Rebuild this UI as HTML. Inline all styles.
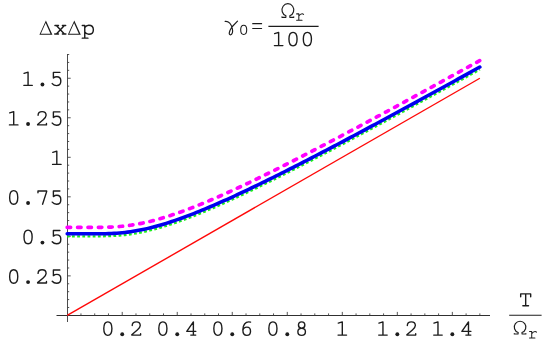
<!DOCTYPE html>
<html><head><meta charset="utf-8"><style>
html,body{margin:0;padding:0;background:#fff;}
body{width:554px;height:343px;overflow:hidden;font-family:"Liberation Mono",monospace;}
svg{display:block;}
</style></head><body>
<svg width="554" height="343" viewBox="0 0 554 343">
<rect width="554" height="343" fill="#fff"/>
<path d="M56.5,315.5 H490" stroke="#303030" stroke-width="1" fill="none"/>
<path d="M67.5,322 V54" stroke="#4c4c4c" stroke-width="1" fill="none"/>
<path d="M80.96,315.40 v-2.00 M94.71,315.40 v-2.00 M108.47,315.40 v-2.00 M122.22,315.40 v-3.50 M135.98,315.40 v-2.00 M149.73,315.40 v-2.00 M163.49,315.40 v-2.00 M177.24,315.40 v-3.50 M191.00,315.40 v-2.00 M204.75,315.40 v-2.00 M218.51,315.40 v-2.00 M232.26,315.40 v-3.50 M246.02,315.40 v-2.00 M259.77,315.40 v-2.00 M273.53,315.40 v-2.00 M287.28,315.40 v-3.50 M301.04,315.40 v-2.00 M314.79,315.40 v-2.00 M328.55,315.40 v-2.00 M342.30,315.40 v-3.50 M356.06,315.40 v-2.00 M369.81,315.40 v-2.00 M383.57,315.40 v-2.00 M397.32,315.40 v-3.50 M411.07,315.40 v-2.00 M424.83,315.40 v-2.00 M438.59,315.40 v-2.00 M452.34,315.40 v-3.50 M466.10,315.40 v-2.00 M479.85,315.40 v-2.00 M67.20,307.50 h2.00 M67.20,299.59 h2.00 M67.20,291.68 h2.00 M67.20,283.78 h2.00 M67.20,275.88 h3.50 M67.20,267.97 h2.00 M67.20,260.06 h2.00 M67.20,252.16 h2.00 M67.20,244.25 h2.00 M67.20,236.35 h3.50 M67.20,228.44 h2.00 M67.20,220.54 h2.00 M67.20,212.63 h2.00 M67.20,204.73 h2.00 M67.20,196.82 h3.50 M67.20,188.92 h2.00 M67.20,181.01 h2.00 M67.20,173.11 h2.00 M67.20,165.20 h2.00 M67.20,157.30 h3.50 M67.20,149.39 h2.00 M67.20,141.49 h2.00 M67.20,133.58 h2.00 M67.20,125.68 h2.00 M67.20,117.77 h3.50 M67.20,109.87 h2.00 M67.20,101.96 h2.00 M67.20,94.06 h2.00 M67.20,86.15 h2.00 M67.20,78.25 h3.50 M67.20,70.34 h2.00 M67.20,62.44 h2.00 M67.20,54.53 h2.00" stroke="#444" stroke-width="0.9" fill="none"/>
<g fill="none" stroke-linecap="butt" stroke-linejoin="round">
<path d="M67.20,315.40 L479.85,78.25" stroke="#ff0808" stroke-width="1.4"/>
<path d="M67.20,236.35 L69.95,236.35 L72.70,236.35 L75.45,236.35 L78.20,236.35 L80.96,236.35 L83.71,236.35 L86.46,236.35 L89.21,236.35 L91.96,236.35 L94.71,236.34 L97.46,236.33 L100.21,236.31 L102.96,236.28 L105.71,236.22 L108.47,236.15 L111.22,236.04 L113.97,235.91 L116.72,235.74 L119.47,235.53 L122.22,235.28 L124.97,234.99 L127.72,234.65 L130.47,234.28 L133.22,233.86 L135.98,233.40 L138.73,232.90 L141.48,232.36 L144.23,231.78 L146.98,231.16 L149.73,230.50 L152.48,229.81 L155.23,229.08 L157.98,228.33 L160.73,227.54 L163.49,226.72 L166.24,225.87 L168.99,224.99 L171.74,224.09 L174.49,223.16 L177.24,222.21 L179.99,221.24 L182.74,220.24 L185.49,219.23 L188.24,218.19 L191.00,217.13 L193.75,216.06 L196.50,214.97 L199.25,213.86 L202.00,212.74 L204.75,211.60 L207.50,210.45 L210.25,209.29 L213.00,208.11 L215.75,206.92 L218.51,205.71 L221.26,204.50 L224.01,203.27 L226.76,202.04 L229.51,200.79 L232.26,199.54 L235.01,198.27 L237.76,197.00 L240.51,195.71 L243.26,194.42 L246.02,193.12 L248.77,191.82 L251.52,190.50 L254.27,189.18 L257.02,187.85 L259.77,186.52 L262.52,185.18 L265.27,183.83 L268.02,182.48 L270.77,181.12 L273.53,179.76 L276.28,178.39 L279.03,177.02 L281.78,175.64 L284.53,174.25 L287.28,172.86 L290.03,171.47 L292.78,170.08 L295.53,168.67 L298.28,167.27 L301.04,165.86 L303.79,164.45 L306.54,163.03 L309.29,161.61 L312.04,160.19 L314.79,158.76 L317.54,157.33 L320.29,155.90 L323.04,154.47 L325.79,153.03 L328.55,151.59 L331.30,150.14 L334.05,148.70 L336.80,147.25 L339.55,145.79 L342.30,144.34 L345.05,142.88 L347.80,141.42 L350.55,139.96 L353.30,138.50 L356.06,137.03 L358.81,135.57 L361.56,134.10 L364.31,132.62 L367.06,131.15 L369.81,129.67 L372.56,128.20 L375.31,126.72 L378.06,125.24 L380.81,123.75 L383.56,122.27 L386.32,120.78 L389.07,119.30 L391.82,117.81 L394.57,116.32 L397.32,114.83 L400.07,113.33 L402.82,111.84 L405.57,110.34 L408.32,108.84 L411.07,107.35 L413.83,105.85 L416.58,104.34 L419.33,102.84 L422.08,101.34 L424.83,99.83 L427.58,98.33 L430.33,96.82 L433.08,95.31 L435.83,93.80 L438.59,92.29 L441.34,90.78 L444.09,89.27 L446.84,87.76 L449.59,86.24 L452.34,84.73 L455.09,83.21 L457.84,81.70 L460.59,80.18 L463.34,78.66 L466.10,77.14 L468.85,75.62 L471.60,74.10 L474.35,72.58 L477.10,71.05 L479.85,69.53" stroke="#1cf01c" stroke-width="2.3" stroke-dasharray="2.8 2.38" stroke-dashoffset="0.4"/>
<path d="M67.20,227.34 L69.95,227.34 L72.70,227.34 L75.45,227.34 L78.20,227.34 L80.96,227.34 L83.71,227.34 L86.46,227.34 L89.21,227.34 L91.96,227.34 L94.71,227.33 L97.46,227.32 L100.21,227.30 L102.96,227.27 L105.71,227.21 L108.47,227.14 L111.22,227.03 L113.97,226.90 L116.72,226.72 L119.47,226.52 L122.22,226.27 L124.97,225.97 L127.72,225.64 L130.47,225.27 L133.22,224.85 L135.98,224.39 L138.73,223.89 L141.48,223.35 L144.23,222.76 L146.98,222.15 L149.73,221.49 L152.48,220.80 L155.23,220.07 L157.98,219.31 L160.73,218.52 L163.49,217.70 L166.24,216.86 L168.99,215.98 L171.74,215.08 L174.49,214.15 L177.24,213.20 L179.99,212.23 L182.74,211.23 L185.49,210.21 L188.24,209.18 L191.00,208.12 L193.75,207.05 L196.50,205.96 L199.25,204.85 L202.00,203.73 L204.75,202.59 L207.50,201.44 L210.25,200.28 L213.00,199.10 L215.75,197.91 L218.51,196.70 L221.26,195.49 L224.01,194.26 L226.76,193.03 L229.51,191.78 L232.26,190.52 L235.01,189.26 L237.76,187.98 L240.51,186.70 L243.26,185.41 L246.02,184.11 L248.77,182.80 L251.52,181.49 L254.27,180.17 L257.02,178.84 L259.77,177.51 L262.52,176.17 L265.27,174.82 L268.02,173.47 L270.77,172.11 L273.53,170.75 L276.28,169.38 L279.03,168.00 L281.78,166.62 L284.53,165.24 L287.28,163.85 L290.03,162.46 L292.78,161.06 L295.53,159.66 L298.28,158.26 L301.04,156.85 L303.79,155.44 L306.54,154.02 L309.29,152.60 L312.04,151.18 L314.79,149.75 L317.54,148.32 L320.29,146.89 L323.04,145.45 L325.79,144.02 L328.55,142.57 L331.30,141.13 L334.05,139.68 L336.80,138.23 L339.55,136.78 L342.30,135.33 L345.05,133.87 L347.80,132.41 L350.55,130.95 L353.30,129.49 L356.06,128.02 L358.81,126.55 L361.56,125.08 L364.31,123.61 L367.06,122.14 L369.81,120.66 L372.56,119.19 L375.31,117.71 L378.06,116.23 L380.81,114.74 L383.56,113.26 L386.32,111.77 L389.07,110.29 L391.82,108.80 L394.57,107.31 L397.32,105.81 L400.07,104.32 L402.82,102.83 L405.57,101.33 L408.32,99.83 L411.07,98.33 L413.83,96.83 L416.58,95.33 L419.33,93.83 L422.08,92.33 L424.83,90.82 L427.58,89.32 L430.33,87.81 L433.08,86.30 L435.83,84.79 L438.59,83.28 L441.34,81.77 L444.09,80.26 L446.84,78.75 L449.59,77.23 L452.34,75.72 L455.09,74.20 L457.84,72.68 L460.59,71.17 L463.34,69.65 L466.10,68.13 L468.85,66.61 L471.60,65.09 L474.35,63.57 L477.10,62.04 L479.85,60.52" stroke="#ff00ff" stroke-width="3.7" stroke-dasharray="3.4 7.004" stroke-linecap="round"/>
<path d="M67.20,233.82 L69.95,233.82 L72.70,233.82 L75.45,233.82 L78.20,233.82 L80.96,233.82 L83.71,233.82 L86.46,233.82 L89.21,233.82 L91.96,233.82 L94.71,233.81 L97.46,233.80 L100.21,233.78 L102.96,233.75 L105.71,233.70 L108.47,233.62 L111.22,233.51 L113.97,233.38 L116.72,233.21 L119.47,233.00 L122.22,232.75 L124.97,232.46 L127.72,232.12 L130.47,231.75 L133.22,231.33 L135.98,230.87 L138.73,230.37 L141.48,229.83 L144.23,229.25 L146.98,228.63 L149.73,227.97 L152.48,227.28 L155.23,226.55 L157.98,225.80 L160.73,225.01 L163.49,224.19 L166.24,223.34 L168.99,222.46 L171.74,221.56 L174.49,220.63 L177.24,219.68 L179.99,218.71 L182.74,217.71 L185.49,216.70 L188.24,215.66 L191.00,214.61 L193.75,213.53 L196.50,212.44 L199.25,211.33 L202.00,210.21 L204.75,209.07 L207.50,207.92 L210.25,206.76 L213.00,205.58 L215.75,204.39 L218.51,203.18 L221.26,201.97 L224.01,200.74 L226.76,199.51 L229.51,198.26 L232.26,197.01 L235.01,195.74 L237.76,194.47 L240.51,193.18 L243.26,191.89 L246.02,190.59 L248.77,189.29 L251.52,187.97 L254.27,186.65 L257.02,185.32 L259.77,183.99 L262.52,182.65 L265.27,181.30 L268.02,179.95 L270.77,178.59 L273.53,177.23 L276.28,175.86 L279.03,174.49 L281.78,173.11 L284.53,171.72 L287.28,170.34 L290.03,168.94 L292.78,167.55 L295.53,166.15 L298.28,164.74 L301.04,163.33 L303.79,161.92 L306.54,160.50 L309.29,159.08 L312.04,157.66 L314.79,156.23 L317.54,154.80 L320.29,153.37 L323.04,151.94 L325.79,150.50 L328.55,149.06 L331.30,147.61 L334.05,146.17 L336.80,144.72 L339.55,143.26 L342.30,141.81 L345.05,140.35 L347.80,138.89 L350.55,137.43 L353.30,135.97 L356.06,134.50 L358.81,133.04 L361.56,131.57 L364.31,130.09 L367.06,128.62 L369.81,127.14 L372.56,125.67 L375.31,124.19 L378.06,122.71 L380.81,121.22 L383.56,119.74 L386.32,118.25 L389.07,116.77 L391.82,115.28 L394.57,113.79 L397.32,112.30 L400.07,110.80 L402.82,109.31 L405.57,107.81 L408.32,106.31 L411.07,104.82 L413.83,103.32 L416.58,101.82 L419.33,100.31 L422.08,98.81 L424.83,97.30 L427.58,95.80 L430.33,94.29 L433.08,92.78 L435.83,91.27 L438.59,89.76 L441.34,88.25 L444.09,86.74 L446.84,85.23 L449.59,83.71 L452.34,82.20 L455.09,80.68 L457.84,79.17 L460.59,77.65 L463.34,76.13 L466.10,74.61 L468.85,73.09 L471.60,71.57 L474.35,70.05 L477.10,68.52 L479.85,67.00" stroke="#0000f0" stroke-width="3.55" stroke-linecap="round"/>
</g>
<g fill="none" stroke="#1c1c1c" stroke-width="59" stroke-linecap="round" stroke-linejoin="round"><path transform="translate(100.77,335.70) scale(0.02360,-0.02360)" d="M300,12 C185,12 128,140 128,300 C128,460 185,588 300,588 C415,588 472,460 472,300 C472,140 415,12 300,12 Z"/><circle cx="122.22" cy="334.24" r="1.94" fill="#1c1c1c" stroke="none"/><path transform="translate(129.51,335.70) scale(0.02360,-0.02360)" d="M115,430 C115,530 190,588 285,588 C385,588 455,520 455,430 C455,350 400,300 330,240 L95,40 V25 H470 V85"/></g><g fill="none" stroke="#1c1c1c" stroke-width="59" stroke-linecap="round" stroke-linejoin="round"><path transform="translate(155.79,335.70) scale(0.02360,-0.02360)" d="M300,12 C185,12 128,140 128,300 C128,460 185,588 300,588 C415,588 472,460 472,300 C472,140 415,12 300,12 Z"/><circle cx="177.24" cy="334.24" r="1.94" fill="#1c1c1c" stroke="none"/><path transform="translate(184.53,335.70) scale(0.02360,-0.02360)" d="M375,25 V588 L95,185 H480 M265,25 H475"/></g><g fill="none" stroke="#1c1c1c" stroke-width="59" stroke-linecap="round" stroke-linejoin="round"><path transform="translate(210.81,335.70) scale(0.02360,-0.02360)" d="M300,12 C185,12 128,140 128,300 C128,460 185,588 300,588 C415,588 472,460 472,300 C472,140 415,12 300,12 Z"/><circle cx="232.26" cy="334.24" r="1.94" fill="#1c1c1c" stroke="none"/><path transform="translate(239.55,335.70) scale(0.02360,-0.02360)" d="M465,575 C440,585 415,588 390,588 C250,588 140,450 140,250 C140,110 200,12 305,12 C400,12 465,90 465,190 C465,295 400,365 310,365 C230,365 160,310 140,220"/></g><g fill="none" stroke="#1c1c1c" stroke-width="59" stroke-linecap="round" stroke-linejoin="round"><path transform="translate(265.83,335.70) scale(0.02360,-0.02360)" d="M300,12 C185,12 128,140 128,300 C128,460 185,588 300,588 C415,588 472,460 472,300 C472,140 415,12 300,12 Z"/><circle cx="287.28" cy="334.24" r="1.94" fill="#1c1c1c" stroke="none"/><path transform="translate(294.57,335.70) scale(0.02360,-0.02360)" d="M300,315 C215,315 165,370 165,450 C165,530 220,588 300,588 C380,588 435,530 435,450 C435,370 385,315 300,315 C205,315 140,250 140,165 C140,75 205,12 300,12 C395,12 460,75 460,165 C460,250 395,315 300,315 Z"/></g><g fill="none" stroke="#1c1c1c" stroke-width="59" stroke-linecap="round" stroke-linejoin="round"><path transform="translate(335.22,335.70) scale(0.02360,-0.02360)" d="M300,25 V588 L130,535 M120,25 H480"/></g><g fill="none" stroke="#1c1c1c" stroke-width="59" stroke-linecap="round" stroke-linejoin="round"><path transform="translate(375.87,335.70) scale(0.02360,-0.02360)" d="M300,25 V588 L130,535 M120,25 H480"/><circle cx="397.32" cy="334.24" r="1.94" fill="#1c1c1c" stroke="none"/><path transform="translate(404.61,335.70) scale(0.02360,-0.02360)" d="M115,430 C115,530 190,588 285,588 C385,588 455,520 455,430 C455,350 400,300 330,240 L95,40 V25 H470 V85"/></g><g fill="none" stroke="#1c1c1c" stroke-width="59" stroke-linecap="round" stroke-linejoin="round"><path transform="translate(430.89,335.70) scale(0.02360,-0.02360)" d="M300,25 V588 L130,535 M120,25 H480"/><circle cx="452.34" cy="334.24" r="1.94" fill="#1c1c1c" stroke="none"/><path transform="translate(459.63,335.70) scale(0.02360,-0.02360)" d="M375,25 V588 L95,185 H480 M265,25 H475"/></g>
<g fill="none" stroke="#1c1c1c" stroke-width="59" stroke-linecap="round" stroke-linejoin="round"><path transform="translate(6.63,283.57) scale(0.02360,-0.02360)" d="M300,12 C185,12 128,140 128,300 C128,460 185,588 300,588 C415,588 472,460 472,300 C472,140 415,12 300,12 Z"/><circle cx="28.07" cy="282.11" r="1.94" fill="#1c1c1c" stroke="none"/><path transform="translate(35.37,283.57) scale(0.02360,-0.02360)" d="M115,430 C115,530 190,588 285,588 C385,588 455,520 455,430 C455,350 400,300 330,240 L95,40 V25 H470 V85"/><path transform="translate(49.73,283.57) scale(0.02360,-0.02360)" d="M430,575 H155 V335 C200,375 250,390 300,390 C400,390 470,310 470,205 C470,90 395,12 290,12 C210,12 150,45 105,100"/></g><g fill="none" stroke="#1c1c1c" stroke-width="59" stroke-linecap="round" stroke-linejoin="round"><path transform="translate(20.99,244.05) scale(0.02360,-0.02360)" d="M300,12 C185,12 128,140 128,300 C128,460 185,588 300,588 C415,588 472,460 472,300 C472,140 415,12 300,12 Z"/><circle cx="42.44" cy="242.59" r="1.94" fill="#1c1c1c" stroke="none"/><path transform="translate(49.73,244.05) scale(0.02360,-0.02360)" d="M430,575 H155 V335 C200,375 250,390 300,390 C400,390 470,310 470,205 C470,90 395,12 290,12 C210,12 150,45 105,100"/></g><g fill="none" stroke="#1c1c1c" stroke-width="59" stroke-linecap="round" stroke-linejoin="round"><path transform="translate(6.63,204.52) scale(0.02360,-0.02360)" d="M300,12 C185,12 128,140 128,300 C128,460 185,588 300,588 C415,588 472,460 472,300 C472,140 415,12 300,12 Z"/><circle cx="28.07" cy="203.06" r="1.94" fill="#1c1c1c" stroke="none"/><path transform="translate(35.37,204.52) scale(0.02360,-0.02360)" d="M110,500 V575 H478 V545 L305,15"/><path transform="translate(49.73,204.52) scale(0.02360,-0.02360)" d="M430,575 H155 V335 C200,375 250,390 300,390 C400,390 470,310 470,205 C470,90 395,12 290,12 C210,12 150,45 105,100"/></g><g fill="none" stroke="#1c1c1c" stroke-width="59" stroke-linecap="round" stroke-linejoin="round"><path transform="translate(49.73,165.00) scale(0.02360,-0.02360)" d="M300,25 V588 L130,535 M120,25 H480"/></g><g fill="none" stroke="#1c1c1c" stroke-width="59" stroke-linecap="round" stroke-linejoin="round"><path transform="translate(6.63,125.47) scale(0.02360,-0.02360)" d="M300,25 V588 L130,535 M120,25 H480"/><circle cx="28.07" cy="124.01" r="1.94" fill="#1c1c1c" stroke="none"/><path transform="translate(35.37,125.47) scale(0.02360,-0.02360)" d="M115,430 C115,530 190,588 285,588 C385,588 455,520 455,430 C455,350 400,300 330,240 L95,40 V25 H470 V85"/><path transform="translate(49.73,125.47) scale(0.02360,-0.02360)" d="M430,575 H155 V335 C200,375 250,390 300,390 C400,390 470,310 470,205 C470,90 395,12 290,12 C210,12 150,45 105,100"/></g><g fill="none" stroke="#1c1c1c" stroke-width="59" stroke-linecap="round" stroke-linejoin="round"><path transform="translate(20.99,85.95) scale(0.02360,-0.02360)" d="M300,25 V588 L130,535 M120,25 H480"/><circle cx="42.44" cy="84.49" r="1.94" fill="#1c1c1c" stroke="none"/><path transform="translate(49.73,85.95) scale(0.02360,-0.02360)" d="M430,575 H155 V335 C200,375 250,390 300,390 C400,390 470,310 470,205 C470,90 395,12 290,12 C210,12 150,45 105,100"/></g>
<!-- y label -->
<path d="M39.40,34.70 L45.90,20.50 L52.40,34.70 Z M40.85,33.75 L50.45,33.75 L45.65,23.00 Z" fill="#1c1c1c" fill-rule="evenodd" stroke="none"/>
<path d="M67.80,34.70 L74.30,20.50 L80.80,34.70 Z M69.25,33.75 L78.85,33.75 L74.05,23.00 Z" fill="#1c1c1c" fill-rule="evenodd" stroke="none"/>
<g fill="none" stroke="#1c1c1c" stroke-width="60" stroke-linecap="round" stroke-linejoin="round"><path transform="translate(53.30,34.60) scale(0.02360,-0.02360)" d="M130,385 L470,25 M470,385 L130,25 M70,385 H220 M385,385 H525 M60,25 H220 M385,25 H535"/></g>
<g fill="none" stroke="#1c1c1c" stroke-width="60" stroke-linecap="round" stroke-linejoin="round"><path transform="translate(81.10,34.60) scale(0.02360,-0.02360)" d="M50,385 H155 V-150 M50,-150 H290 M155,295 C195,362 250,398 325,398 C438,398 520,318 520,205 C520,92 438,12 325,12 C250,12 195,48 155,115"/></g>
<!-- title -->
<path d="M225.2,21.35 C228.7,20.9 231.4,24.3 232.3,28.6 C233.1,31.8 232.3,34.7 230.4,34.8 C228.3,34.8 229.3,30.8 231.9,27.0 L237.5,21.2" fill="none" stroke="#1c1c1c" stroke-width="1.2" stroke-linecap="round" stroke-linejoin="round"/>
<g fill="none" stroke="#1c1c1c" stroke-width="62" stroke-linecap="round" stroke-linejoin="round"><path transform="translate(238.45,34.75) scale(0.01750,-0.01628)" d="M300,12 C185,12 128,140 128,300 C128,460 185,588 300,588 C415,588 472,460 472,300 C472,140 415,12 300,12 Z"/></g>
<path d="M252.7,23.65 H261.6 M252.7,28.5 H261.6" stroke="#1c1c1c" stroke-width="1.15" stroke-linecap="round" fill="none"/>
<path d="M268.4,26.35 H318.6" stroke="#1c1c1c" stroke-width="1.05"/>
<path d="M281.97,16.83 V17.33 H285.80 L285.95,15.83 A5.90,6.25 0 1 1 289.80,15.83 L289.95,17.33 H293.77 V16.83" fill="none" stroke="#1c1c1c" stroke-width="1.15" stroke-linecap="round" stroke-linejoin="round"/>
<g fill="none" stroke="#1c1c1c" stroke-width="58" stroke-linecap="round" stroke-linejoin="round"><path transform="translate(294.70,20.70) scale(0.01750,-0.01750)" d="M110,390 H235 V25 M110,25 H420 M235,265 C290,355 355,400 425,400 C462,400 490,385 508,358"/></g>
<g fill="none" stroke="#1c1c1c" stroke-width="59" stroke-linecap="round" stroke-linejoin="round"><path transform="translate(271.56,46.20) scale(0.02360,-0.02360)" d="M300,25 V588 L130,535 M120,25 H480"/><path transform="translate(285.93,46.20) scale(0.02360,-0.02360)" d="M300,12 C185,12 128,140 128,300 C128,460 185,588 300,588 C415,588 472,460 472,300 C472,140 415,12 300,12 Z"/><path transform="translate(300.30,46.20) scale(0.02360,-0.02360)" d="M300,12 C185,12 128,140 128,300 C128,460 185,588 300,588 C415,588 472,460 472,300 C472,140 415,12 300,12 Z"/></g>
<!-- x label -->
<g fill="none" stroke="#1c1c1c" stroke-width="59" stroke-linecap="round" stroke-linejoin="round"><path transform="translate(518.60,306.40) scale(0.02360,-0.02360)" d="M88,405 V530 H512 V405 M300,530 V25 M180,25 H420"/></g>
<path d="M509.2,315.25 H541.6" stroke="#1c1c1c" stroke-width="1.05"/>
<path d="M514.28,333.52 V334.02 H518.04 L518.19,332.52 A5.80,5.78 0 1 1 521.96,332.52 L522.11,334.02 H525.88 V333.52" fill="none" stroke="#1c1c1c" stroke-width="1.15" stroke-linecap="round" stroke-linejoin="round"/>
<g fill="none" stroke="#1c1c1c" stroke-width="58" stroke-linecap="round" stroke-linejoin="round"><path transform="translate(527.60,338.40) scale(0.01750,-0.01750)" d="M110,390 H235 V25 M110,25 H420 M235,265 C290,355 355,400 425,400 C462,400 490,385 508,358"/></g>
</svg>
</body></html>
